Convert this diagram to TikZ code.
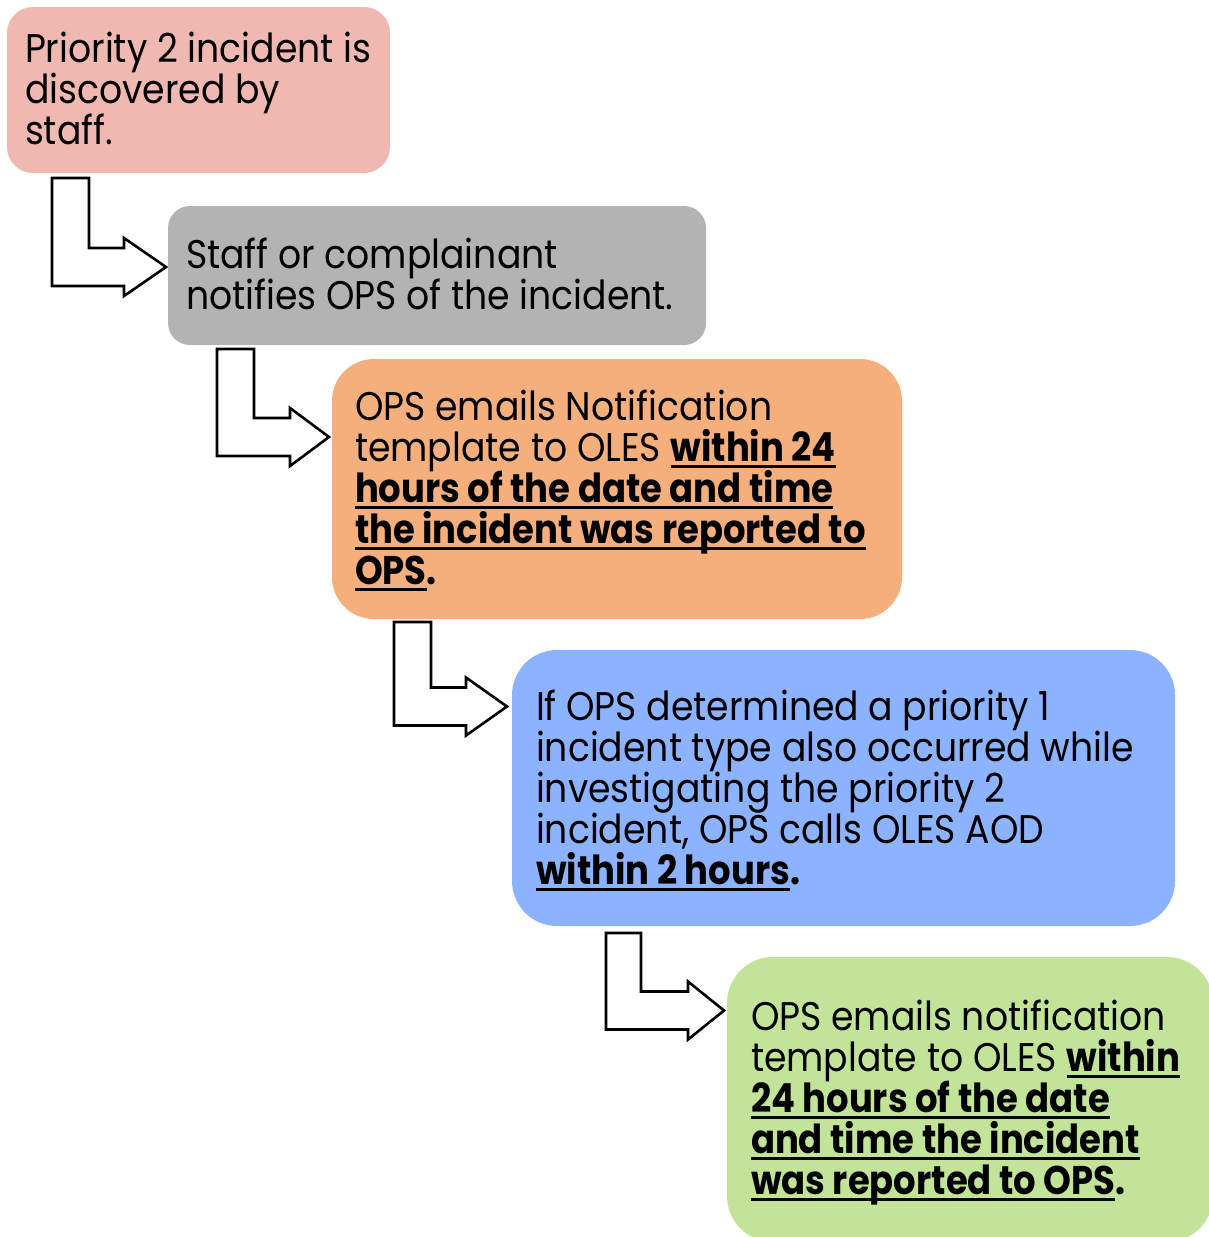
\documentclass[tikz,border=0pt]{standalone}
\usepackage{fontspec}
\setmainfont{Poppins}[UprightFeatures={FakeStretch=0.905}, BoldFeatures={FakeStretch=0.885}]
\definecolor{pinkc}{RGB}{239,184,176}
\definecolor{grayc}{RGB}{179,179,179}
\definecolor{orangec}{RGB}{244,175,125}
\definecolor{bluec}{RGB}{140,179,255}
\definecolor{greenc}{RGB}{193,228,152}
\newsavebox\ulbox
\newcommand\ulb[1]{\sbox\ulbox{\bfseries #1}\rlap{\rule[-7.3pt]{\wd\ulbox}{3.2pt}}\usebox\ulbox}
\newcommand\textlines[1]{\vtop{\baselineskip=41pt\lineskiplimit=-100pt\lineskip=0pt #1}}
\newcommand\tline[1]{\hbox{#1}}
% bent arrow: xl, xs, ytop, ycenter, xhead, xtip
\newcommand\bentarrow[6]{%
  \draw[arrowshape] (#1,#3) -- (#2,#3) -- (#2,{#4-19}) -- (#5,{#4-19}) -- (#5,{#4-29})
    -- (#6,#4) -- (#5,{#4+29}) -- (#5,{#4+19}) -- (#1,{#4+19}) -- cycle;}
\begin{document}
\begin{tikzpicture}[x=1pt,y=-1pt,
  box/.style={draw=none, inner sep=0pt, outer sep=0pt, anchor=north west},
  txt/.style={inner sep=0pt, outer sep=0pt, anchor=base west, font=\fontsize{40}{41}\selectfont, text=black},
  arrowshape/.style={draw=black, line width=2.6pt, fill=white, line join=miter}]
\useasboundingbox (0,0) rectangle (1209,1237);
\clip (0,0) rectangle (1209,1237);
\fill[white] (0,0) rectangle (1209,1237);

\node[box, fill=pinkc, rounded corners=26pt, minimum width=383pt, minimum height=166pt] (b1) at (7,7) {};
\node[box, fill=grayc, rounded corners=22pt, minimum width=538pt, minimum height=139pt] (b2) at (168,206) {};
\node[box, fill=orangec, rounded corners=42pt, minimum width=570pt, minimum height=260pt] (b3) at (332,359) {};
\node[box, fill=bluec, rounded corners=45pt, minimum width=663pt, minimum height=276pt] (b4) at (512,650) {};
\node[box, fill=greenc, rounded corners=46pt, minimum width=486pt, minimum height=285pt] (b5) at (727,957) {};

\bentarrow{52}{89}{178}{267}{124}{166}
\bentarrow{217}{254}{349}{437}{290}{329}
\bentarrow{394}{431}{622}{706.5}{466}{507}
\bentarrow{606}{641}{933}{1010.5}{688}{724}

\node[txt] (t1) at (25,62) {\textlines{%
  \tline{Priority 2 incident is}\tline{discovered by}\tline{staff.}}};
\node[txt] (t2) at (186,268) {\textlines{%
  \tline{Staff or complainant}\tline{notifies OPS of the incident.}}};
\node[txt] (t3) at (355,420) {\textlines{%
  \tline{OPS emails Notification}%
  \tline{template to OLES \ulb{within 24}}%
  \tline{\ulb{hours of the date and time}}%
  \tline{\ulb{the incident was reported to}}%
  \tline{\ulb{OPS}\textbf{.}}}};
\node[txt] (t4) at (536,720) {\textlines{%
  \tline{If OPS determined a priority 1}%
  \tline{incident type also occurred while}%
  \tline{investigating the priority 2}%
  \tline{incident, OPS calls OLES AOD}%
  \tline{\ulb{within 2 hours}\textbf{.}}}};
\node[txt] (t5) at (751,1030) {\textlines{%
  \tline{OPS emails notification}%
  \tline{template to OLES \ulb{within}}%
  \tline{\ulb{24 hours of the date}}%
  \tline{\ulb{and time the incident}}%
  \tline{\ulb{was reported to OPS}\textbf{.}}}};
\end{tikzpicture}
\end{document}
